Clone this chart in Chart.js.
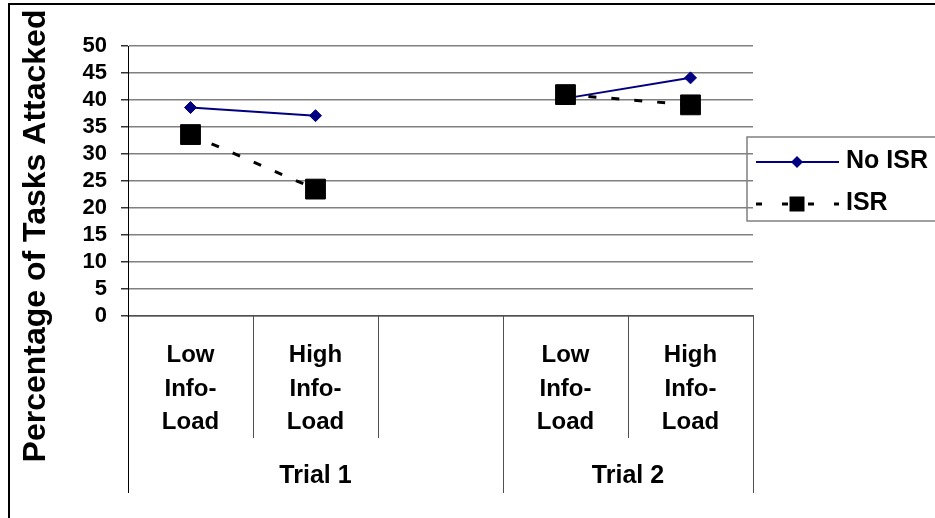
<!DOCTYPE html>
<html>
<head>
<meta charset="utf-8">
<script src="https://cdn.jsdelivr.net/npm/chart.js@4/dist/chart.umd.min.js"></script>
<style>
  html, body { margin: 0; padding: 0; background: #fff; }
  #wrap { width: 935px; height: 518px; position: relative; }
</style>
</head>
<body>
<div id="wrap"><canvas id="c" width="935" height="518"></canvas></div>
<script>
// Categories along the bottom (multi-line labels), with an empty spacer between trials
const categories = [
  ["Low", "Info-", "Load"],
  ["High", "Info-", "Load"],
  "",
  ["Low", "Info-", "Load"],
  ["High", "Info-", "Load"]
];
// Second label row: trial names and how many categories each one spans
const trialNames = ["Trial 1", "Trial 2"];
const trialSpans = [3, 2];

// Series values (percent of tasks attacked)
const seriesNames = ["No ISR", "ISR"];
const noIsrValues = [38.6, 37.1, null, 40.3, 44.1];
const isrValues   = [33.6, 23.5, null, 41.0, 39.1];

// Value axis
const yMin = 0, yMax = 50, yStep = 5;
const yTitle = "Percentage of Tasks Attacked";

const FONT = "'Liberation Sans', Arial, Helvetica, sans-serif";

function drawMarker(ctx, style, x, y, r, color) {
  ctx.save();
  ctx.fillStyle = color;
  ctx.beginPath();
  if (style === 'rectRot') {
    ctx.moveTo(x, y - r); ctx.lineTo(x + r, y); ctx.lineTo(x, y + r); ctx.lineTo(x - r, y);
    ctx.closePath();
  } else {
    ctx.rect(x - r, y - r, 2 * r, 2 * r);
  }
  ctx.fill();
  ctx.restore();
}

const decorations = {
  id: 'decorations',
  afterDraw(chart) {
    const ctx = chart.ctx;
    const xs = chart.scales.x;
    const area = chart.chartArea;
    ctx.save();

    // frame around the whole figure (top and left edges)
    ctx.strokeStyle = '#000';
    ctx.lineWidth = 2;
    ctx.beginPath();
    ctx.moveTo(9, 530); ctx.lineTo(9, 4); ctx.lineTo(945, 4);
    ctx.stroke();

    // value axis title
    ctx.save();
    ctx.translate(45, 236);
    ctx.rotate(-Math.PI / 2);
    ctx.font = `bold 32px ${FONT}`;
    ctx.fillStyle = '#000';
    ctx.textAlign = 'center';
    ctx.textBaseline = 'alphabetic';
    ctx.fillText(yTitle, 0, 0);
    ctx.restore();

    // category boundaries below the axis
    const n = categories.length;
    const boundary = i => {
      if (i === 0) return area.left;
      if (i === n) return area.right;
      return (xs.getPixelForValue(i - 1) + xs.getPixelForValue(i)) / 2;
    };
    const groupEdges = new Set([0]);
    let acc = 0;
    trialSpans.forEach(s => { acc += s; groupEdges.add(acc); });

    for (let i = 0; i <= n; i++) {
      const x = Math.round(boundary(i)) + 0.5;
      const isGroup = groupEdges.has(i);
      ctx.strokeStyle = i === 0 ? '#000' : '#505050';
      ctx.lineWidth = 1;
      ctx.beginPath();
      ctx.moveTo(x, area.bottom);
      ctx.lineTo(x, isGroup ? 493 : 438);
      ctx.stroke();
    }

    // category labels
    ctx.fillStyle = '#000';
    ctx.textAlign = 'center';
    ctx.textBaseline = 'alphabetic';
    ctx.font = `bold 24px ${FONT}`;
    categories.forEach((lab, i) => {
      const lines = Array.isArray(lab) ? lab : [lab];
      const cx = xs.getPixelForValue(i);
      lines.forEach((ln, k) => ctx.fillText(ln, cx, 362 + k * 33.5));
    });

    // trial labels
    ctx.font = `bold 25px ${FONT}`;
    let start = 0;
    trialNames.forEach((name, g) => {
      const end = start + trialSpans[g];
      const cx = (boundary(start) + boundary(end)) / 2;
      ctx.fillText(name, cx, 483);
      start = end;
    });

    // legend
    const ds = chart.data.datasets;
    ctx.strokeStyle = '#808080';
    ctx.lineWidth = 1.5;
    ctx.strokeRect(747, 137, 220, 84);
    const rows = [162, 204];
    ds.forEach((d, k) => {
      const y = rows[k];
      ctx.save();
      ctx.strokeStyle = d.borderColor;
      ctx.lineWidth = d.borderWidth;
      ctx.setLineDash(d.borderDash ? [6, 20] : []);
      ctx.beginPath();
      ctx.moveTo(756, y); ctx.lineTo(839, y);
      ctx.stroke();
      ctx.restore();
      drawMarker(ctx, d.pointStyle, 797, y, d.pointStyle === 'rectRot' ? 6 : 7.5, d.pointBackgroundColor);
      ctx.fillStyle = '#000';
      ctx.textAlign = 'left';
      ctx.font = `bold 25px ${FONT}`;
      ctx.fillText(d.label, 846, y + 6);
    });

    ctx.restore();
  }
};

new Chart(document.getElementById('c'), {
  type: 'line',
  data: {
    labels: categories,
    datasets: [
      {
        label: seriesNames[0],
        data: noIsrValues,
        borderColor: '#000080',
        borderWidth: 2,
        pointStyle: 'rectRot',
        pointRadius: 6,
        pointBackgroundColor: '#000080',
        pointBorderColor: '#000080',
        pointBorderWidth: 1,
        spanGaps: false,
        tension: 0,
        order: 1
      },
      {
        label: seriesNames[1],
        data: isrValues,
        borderColor: '#000000',
        borderWidth: 3,
        borderDash: [8, 15],
        pointStyle: 'rect',
        pointRadius: 14,
        pointBackgroundColor: '#000000',
        pointBorderColor: '#000000',
        pointBorderWidth: 1,
        spanGaps: false,
        tension: 0,
        order: 0
      }
    ]
  },
  options: {
    responsive: false,
    animation: false,
    devicePixelRatio: 1,
    layout: { padding: { left: 0, top: 46, right: 182, bottom: 202 } },
    plugins: { legend: { display: false }, tooltip: { enabled: false } },
    scales: {
      x: {
        type: 'category',
        offset: true,
        grid: { display: false },
        border: { display: true, color: '#505050', width: 1.5 },
        ticks: { display: false },
        afterFit: s => { s.height = 0; }
      },
      y: {
        min: yMin,
        max: yMax,
        ticks: {
          stepSize: yStep,
          autoSkip: false,
          color: '#000',
          padding: 14,
          font: { family: FONT, size: 22, weight: 'bold' }
        },
        grid: { color: '#808080', lineWidth: 1.5, tickLength: 7, tickColor: '#333' },
        border: { display: true, color: '#000', width: 1 },
        afterFit: s => { s.width = 128; }
      }
    }
  },
  plugins: [decorations]
});
</script>
</body>
</html>
